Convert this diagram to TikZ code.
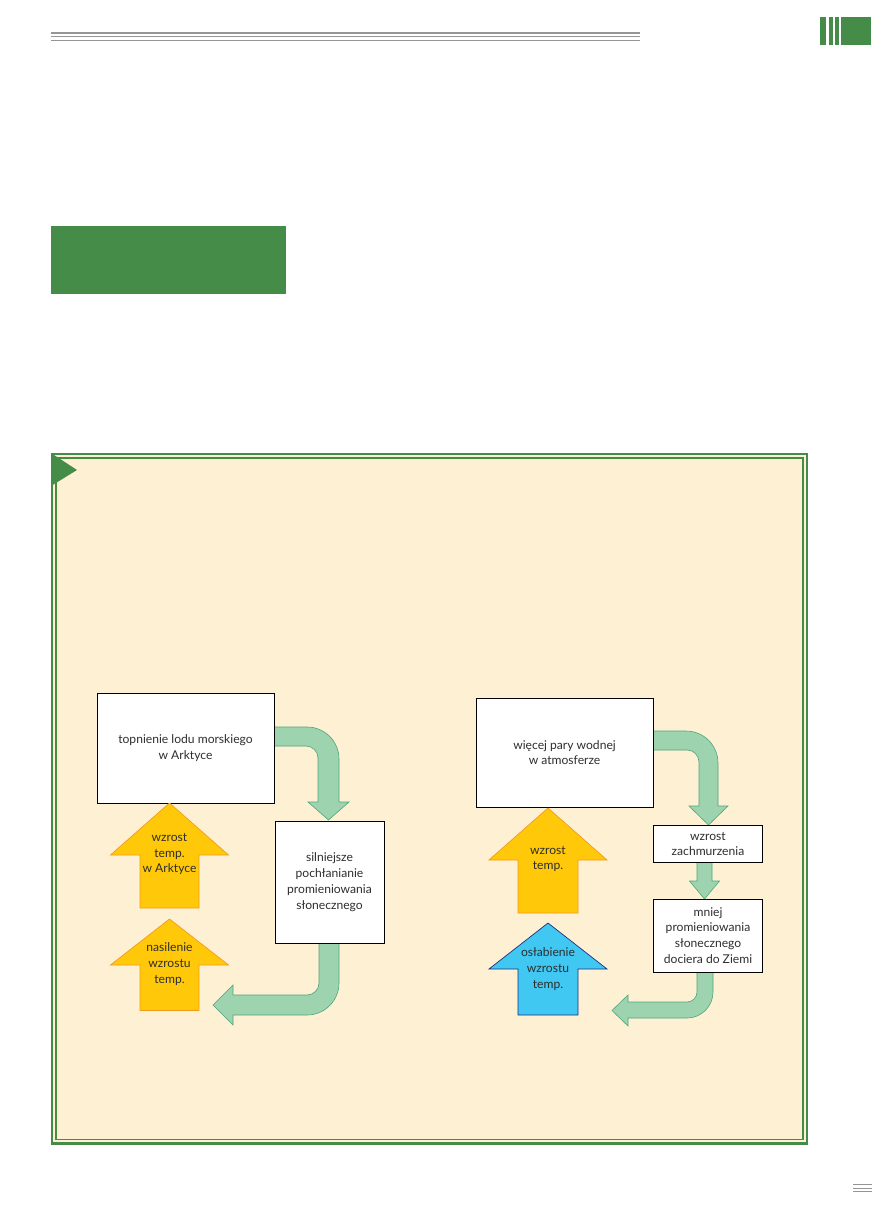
\documentclass[tikz,border=0pt]{standalone}
\usepackage{fontspec}
\setmainfont{Lato}
\definecolor{pgreen}{HTML}{458C48}
\definecolor{cream}{HTML}{FEF0D3}
\definecolor{hgray}{HTML}{959595}
\definecolor{arrgreen}{HTML}{9DD4AF}
\definecolor{arrgreenline}{HTML}{4FA57A}
\definecolor{arryel}{HTML}{FFC90A}
\definecolor{arryelline}{HTML}{F39A1E}
\definecolor{arrblue}{HTML}{40C7F2}
\definecolor{arrblueline}{HTML}{1F2F80}
\definecolor{textc}{HTML}{2E2E2E}
\newcommand{\diagfont}{\fontsize{12.1}{15.8}\selectfont}
\begin{document}
\begin{tikzpicture}[x=1pt,y=-1pt,
  box/.style={draw=black, line width=0.8pt, fill=white, inner sep=0pt, align=center, font=\diagfont, text=textc},
  garrow/.style={fill=arrgreen, draw=arrgreenline, line width=0.6pt, line join=miter},
  yarrow/.style={fill=arryel, draw=arryelline, line width=0.7pt},
  barrow/.style={fill=arrblue, draw=arrblueline, line width=0.7pt},
  lbl/.style={align=center, font=\diagfont, text=textc, inner sep=0pt}]
\useasboundingbox (0,0) rectangle (872,1212);
% header
\draw[hgray, line width=2pt] (51,33) -- (640,33);
\draw[hgray, line width=0.8pt] (51,36.5) -- (640,36.5);
\draw[hgray, line width=0.8pt] (51,40.5) -- (640,40.5);
\fill[pgreen] (820,17) rectangle (826.2,45);
\fill[pgreen] (828.8,17) rectangle (832.5,45);
\fill[pgreen] (835,17) rectangle (838.6,45);
\fill[pgreen] (841.2,17) rectangle (870.5,45);
% green title block
\fill[pgreen] (51,226) rectangle (286,294);
% footer lines
\draw[hgray, line width=0.6pt] (853,1184) -- (872,1184);
\draw[hgray, line width=0.6pt] (853,1188) -- (872,1188);
\draw[hgray, line width=1.6pt] (853,1191.5) -- (872,1191.5);
% panel
\draw[pgreen, line width=2.2pt, fill=cream] (52,454) rectangle (807,1143.5);
\draw[pgreen, line width=1.2pt] (56,458) rectangle (803,1139.5);
\fill[pgreen] (51,453) -- (77,470) -- (51,486) -- cycle;

% ---------- left cycle ----------
\draw[garrow] (272,727) -- (307,727) .. controls (324.7,727) and (339,741.3) .. (339,759) -- (339,802) -- (349,802) -- (328.5,820) -- (308,802) -- (318,802) -- (318,758) .. controls (318,751.4) and (312.6,746) .. (306,746) -- (272,746) -- cycle;
\draw[garrow] (319,941) -- (339,941) -- (339,983) .. controls (339,1000.7) and (324.7,1015) .. (307,1015) -- (233,1015) -- (233,1025) -- (213,1005) -- (233,985) -- (233,995) -- (307,995) .. controls (313.6,995) and (319,989.6) .. (319,983) -- cycle;

\node[box, minimum width=177pt, minimum height=110pt] (b1) at (185.5,748) {topnienie lodu morskiego\\w Arktyce};
\node[box, minimum width=109pt, minimum height=122pt] (b2) at (329.5,882) {silniejsze\\pochłanianie\\promieniowania\\słonecznego};

\draw[yarrow] (169.5,803) -- (228.5,855) -- (199,855) -- (199,908) -- (140,908) -- (140,855) -- (110.5,855) -- cycle;
\node[lbl] (y1) at (169.5,854) {wzrost\\temp.\\w Arktyce};
\draw[yarrow] (169.5,919) -- (228.5,965) -- (199,965) -- (199,1010.5) -- (140,1010.5) -- (140,965) -- (110.5,965) -- cycle;
\node[lbl] (y2) at (169.5,964) {nasilenie\\wzrostu\\temp.};

% ---------- right cycle ----------
\draw[garrow] (651,731) -- (686,731) .. controls (703.7,731) and (718,745.3) .. (718,763) -- (718,806) -- (728,806) -- (708.5,825) -- (689,806) -- (699,806) -- (699,762) .. controls (699,755.4) and (693.6,750) .. (687,750) -- (651,750) -- cycle;
\draw[garrow] (697,861) -- (712,861) -- (712,881) -- (719.5,881) -- (704.5,899) -- (689.5,881) -- (697,881) -- cycle;
\draw[garrow] (697,970) -- (713,970) -- (713,992) .. controls (713,1006.4) and (701.4,1018) .. (687,1018) -- (628,1018) -- (628,1026) -- (612,1010.5) -- (628,995) -- (628,1002) -- (687,1002) .. controls (692.5,1002) and (697,997.5) .. (697,992) -- cycle;

\node[box, minimum width=177pt, minimum height=109pt] (b3) at (564.5,752.5) {więcej pary wodnej\\w atmosferze};
\node[box, minimum width=109.5pt, minimum height=37.5pt] (b4) at (708,844) {wzrost\\zachmurzenia};
\node[box, minimum width=109.5pt, minimum height=73pt] (b5) at (708,935.5) {mniej\\promieniowania\\słonecznego\\dociera do Ziemi};

\draw[yarrow] (548,808) -- (607,860) -- (578,860) -- (578,913) -- (518,913) -- (518,860) -- (489,860) -- cycle;
\node[lbl] (y3) at (548,859) {wzrost\\temp.};
\draw[barrow] (548,923) -- (607,969) -- (578,969) -- (578,1015) -- (518,1015) -- (518,969) -- (489,969) -- cycle;
\node[lbl] (y4) at (548,969) {osłabienie\\wzrostu\\temp.};
\end{tikzpicture}
\end{document}
